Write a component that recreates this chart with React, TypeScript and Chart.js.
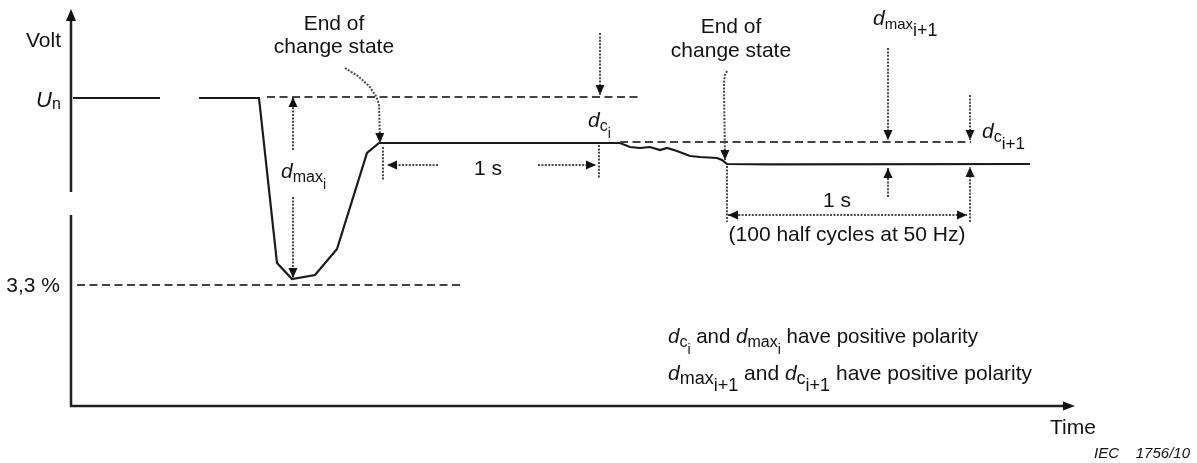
import React, { useEffect, useRef } from "react";
import { Chart, registerables } from "chart.js";

Chart.register(...registerables);

const FONT = '"Liberation Sans", Arial, Helvetica, sans-serif';

// ---------- data (time: arbitrary units 0..100, voltage: arbitrary units 0..100) ----------
const timeValues = [0.2, 8.9, 10.8, 12.8, 18.8, 20.6, 22.1, 24.4, 26.6, 29.6, 30.8, 53.9, 54.9, 55.9, 56.9, 57.9, 58.9, 59.6, 60.6, 61.9, 62.9, 64.6, 65.1, 65.6, 70.0, 95.9];
const voltValues: (number | null)[] = [77, 77, null, 77, 77, 35.75, 31.75, 32.75, 39.25, 63.25, 65.75, 65.75, 65.75, 64.75, 64.5, 64.75, 64, 64.5, 63.75, 62.5, 62.25, 62, 61.5, 60.5, 60.4, 60.5];

// axes extents
const xAxisEnd = 100.4;
const yAxisTop = 99.25;
const yAxisBreak = [47.75, 53.5];

// dashed reference levels: [x0, x1, y]
const dashedRefs: number[][] = [
  [19.6, 56.9, 77.25],
  [0.6, 39.1, 30.25],
  [54.9, 90.0, 66],
];

// dotted leaders / arrows: points [x,y], head at 'end' | 'start' | 'both' | 'none'
const dottedPaths: { pts: number[][]; head: string }[] = [
  { pts: [[27.4, 84.5], [28.7, 82.5], [29.8, 80], [30.5, 77.5], [30.8, 75.5], [30.9, 65.75]], head: "end" },
  { pts: [[31.2, 64.75], [31.2, 56.5]], head: "none" },
  { pts: [[22.2, 64], [22.2, 77.25]], head: "end" },
  { pts: [[22.2, 52.25], [22.2, 32]], head: "end" },
  { pts: [[36.7, 60.25], [31.6, 60.25]], head: "end" },
  { pts: [[46.7, 60.25], [52.5, 60.25]], head: "end" },
  { pts: [[52.9, 93.25], [52.9, 77.75]], head: "end" },
  { pts: [[52.8, 65.25], [52.8, 57]], head: "none" },
  { pts: [[65.6, 83.75], [65.35, 82.5], [65.3, 80], [65.4, 61.5]], head: "end" },
  { pts: [[65.6, 60], [65.6, 46]], head: "none" },
  { pts: [[81.7, 89.5], [81.7, 66.5]], head: "end" },
  { pts: [[81.7, 52.25], [81.7, 59.5]], head: "end" },
  { pts: [[89.9, 77.75], [89.9, 66.5]], head: "end" },
  { pts: [[89.9, 46], [89.9, 59.75]], head: "end" },
  { pts: [[65.7, 47.75], [89.6, 47.75]], head: "both" },
];

// text parts: [text, size, italic(1/0), baseline offset px]
type Part = [string, number, number, number];
const dMaxI: Part[] = [["d", 21, 1, 0], ["max", 16, 0, 4], ["i", 14, 0, 11]];
const dCI: Part[] = [["d", 21, 1, 0], ["c", 16, 0, 4], ["i", 14, 0, 11]];
const dMaxI1: Part[] = [["d", 21, 1, 0], ["max", 15, 0, 4], ["i+1", 18, 0, 11]];
const dCI1: Part[] = [["d", 21, 1, 0], ["c", 16, 0, 4], ["i+1", 17, 0, 11]];
const bMaxI: Part[] = [["d", 20.5, 1, 0], ["max", 16, 0, 4], ["i", 14, 0, 11]];
const bCI: Part[] = [["d", 20.5, 1, 0], ["c", 16, 0, 4], ["i", 14, 0, 11]];
const bMaxI1: Part[] = [["d", 21, 1, 0], ["max", 18, 0, 4], ["i+1", 18, 0, 11]];
const bCI1: Part[] = [["d", 21, 1, 0], ["c", 18, 0, 4], ["i+1", 18, 0, 11]];

// labels: x, y (data units), align, parts
const labels: { x: number; y: number; align: string; parts: Part[] }[] = [
  { x: -2.75, y: 89.75, align: "center", parts: [["Volt", 21, 0, 0]] },
  { x: -3.5, y: 74.75, align: "left", parts: [["U", 22, 1, 0], ["n", 16, 0, 2]] },
  { x: -1.1, y: 28.5, align: "right", parts: [["3,3 %", 21, 0, 0]] },
  { x: 26.3, y: 94, align: "center", parts: [["End of", 21, 0, 0]] },
  { x: 26.3, y: 88.25, align: "center", parts: [["change state", 21, 0, 0]] },
  { x: 66.0, y: 93.25, align: "center", parts: [["End of", 21, 0, 0]] },
  { x: 66.0, y: 87.25, align: "center", parts: [["change state", 21, 0, 0]] },
  { x: 21.0, y: 57, align: "left", parts: dMaxI },
  { x: 51.7, y: 69.75, align: "left", parts: dCI },
  { x: 41.7, y: 57.75, align: "center", parts: [["1 s", 21, 0, 0]] },
  { x: 80.2, y: 95.25, align: "left", parts: dMaxI1 },
  { x: 91.1, y: 67, align: "left", parts: dCI1 },
  { x: 76.6, y: 49.75, align: "center", parts: [["1 s", 21, 0, 0]] },
  { x: 77.6, y: 41.25, align: "center", parts: [["(100 half cycles at 50 Hz)", 21, 0, 0]] },
  { x: 59.7, y: 15.75, align: "left", parts: [...bCI, [" and ", 20.5, 0, 0], ...bMaxI, [" have positive polarity", 20.5, 0, 0]] },
  { x: 59.7, y: 6.5, align: "left", parts: [...bMaxI1, [" and ", 21, 0, 0], ...bCI1, [" have positive polarity", 21, 0, 0]] },
  { x: 97.9, y: -7, align: "left", parts: [["Time", 21, 0, 0]] },
  { x: 111.9, y: -13, align: "right", parts: [["IEC    1756/10", 15, 1, 0]] },
];

function drawRich(ctx: CanvasRenderingContext2D, x: number, y: number, parts: Part[], align: string) {
  const widths = parts.map(([t, s, it]) => {
    ctx.font = `${it ? "italic " : ""}${s}px ${FONT}`;
    return ctx.measureText(t).width;
  });
  const total = widths.reduce((a, b) => a + b, 0);
  let cx = align === "center" ? x - total / 2 : align === "right" ? x - total : x;
  parts.forEach(([t, s, it, dy], i) => {
    ctx.font = `${it ? "italic " : ""}${s}px ${FONT}`;
    ctx.fillText(t, cx, y + dy);
    cx += widths[i];
  });
}

function arrowHead(ctx: CanvasRenderingContext2D, tx: number, ty: number, fx: number, fy: number, len: number, hw: number) {
  const a = Math.atan2(ty - fy, tx - fx);
  const bx = tx - Math.cos(a) * len;
  const by = ty - Math.sin(a) * len;
  const nx = -Math.sin(a) * hw;
  const ny = Math.cos(a) * hw;
  ctx.beginPath();
  ctx.moveTo(tx, ty);
  ctx.lineTo(bx + nx, by + ny);
  ctx.lineTo(bx - nx, by - ny);
  ctx.closePath();
  ctx.fill();
}

const annotationPlugin = {
  id: "diagram",
  afterDatasetsDraw(chart: any) {
    const ctx: CanvasRenderingContext2D = chart.ctx;
    const xs = chart.scales.x;
    const ys = chart.scales.y;
    const X = (v: number) => xs.getPixelForValue(v);
    const Y = (v: number) => ys.getPixelForValue(v);
    ctx.save();

    // axes
    ctx.strokeStyle = "#222";
    ctx.fillStyle = "#111";
    ctx.lineWidth = 2.5;
    ctx.setLineDash([]);
    ctx.beginPath();
    ctx.moveTo(X(0), Y(yAxisTop) + 10);
    ctx.lineTo(X(0), Y(yAxisBreak[1]));
    ctx.moveTo(X(0), Y(yAxisBreak[0]));
    ctx.lineTo(X(0), Y(0));
    ctx.lineTo(X(xAxisEnd) - 10, Y(0));
    ctx.stroke();
    arrowHead(ctx, X(0), Y(yAxisTop), X(0), Y(0), 12, 5);
    arrowHead(ctx, X(xAxisEnd), Y(0), X(0), Y(0), 12, 4.5);

    // dashed reference lines
    ctx.strokeStyle = "#444";
    ctx.lineWidth = 2;
    ctx.setLineDash([8, 4.5]);
    dashedRefs.forEach(([x0, x1, y]) => {
      ctx.beginPath();
      ctx.moveTo(X(x0), Y(y));
      ctx.lineTo(X(x1), Y(y));
      ctx.stroke();
    });

    // dotted arrows
    ctx.strokeStyle = "#4a4a4a";
    ctx.fillStyle = "#111";
    ctx.lineWidth = 2;
    dottedPaths.forEach(({ pts, head }) => {
      const p = pts.map(([a, b]) => [X(a), Y(b)]);
      ctx.setLineDash([2, 1.4]);
      ctx.beginPath();
      ctx.moveTo(p[0][0], p[0][1]);
      for (let i = 1; i < p.length; i++) ctx.lineTo(p[i][0], p[i][1]);
      ctx.stroke();
      ctx.setLineDash([]);
      const n = p.length;
      if (head === "end" || head === "both") arrowHead(ctx, p[n - 1][0], p[n - 1][1], p[n - 2][0], p[n - 2][1], 10, 4.5);
      if (head === "start" || head === "both") arrowHead(ctx, p[0][0], p[0][1], p[1][0], p[1][1], 10, 4.5);
    });

    // labels
    ctx.fillStyle = "#111";
    ctx.textBaseline = "alphabetic";
    ctx.textAlign = "left";
    labels.forEach((l) => drawRich(ctx, X(l.x), Y(l.y), l.parts, l.align));

    ctx.restore();
  },
};

export default function App() {
  const ref = useRef<HTMLCanvasElement | null>(null);
  useEffect(() => {
    if (!ref.current) return;
    const chart = new Chart(ref.current, {
      type: "line",
      data: {
        datasets: [
          {
            data: timeValues.map((t, i) => ({ x: t, y: voltValues[i] })) as any,
            borderColor: "#1a1a1a",
            borderWidth: 2.2,
            pointRadius: 0,
            fill: false,
            tension: 0,
            spanGaps: false,
            clip: false as any,
          },
        ],
      },
      options: {
        animation: false,
        responsive: false,
        events: [],
        layout: { padding: { left: 71, right: 126, top: 6, bottom: 57 }, autoPadding: false } as any,
        plugins: { legend: { display: false }, tooltip: { enabled: false } },
        scales: {
          x: { type: "linear", min: 0, max: 100, display: false },
          y: { type: "linear", min: 0, max: 100, display: false },
        },
      },
      plugins: [annotationPlugin],
    });
    return () => chart.destroy();
  }, []);
  return (
    <div style={{ position: "fixed", left: 0, top: 0, width: 1197, height: 463, background: "#fff" }}>
      <canvas ref={ref} width={1197} height={463} style={{ display: "block" }} />
    </div>
  );
}
